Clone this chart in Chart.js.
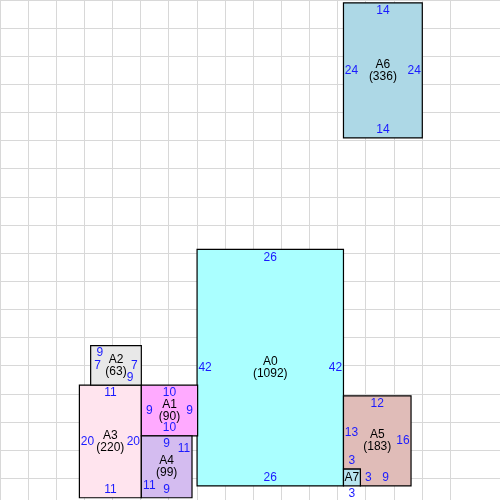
<!DOCTYPE html>
<html><head><meta charset="utf-8">
<script src="https://cdn.jsdelivr.net/npm/chart.js@4"></script>
<style>html,body{margin:0;padding:0;background:#fff}</style>
</head><body>
<canvas id="c" width="500" height="500"></canvas>
<script>
const roomNames = ["A0","A6","A3","A2","A1","A4","A5","A7"];
const roomAreas = [1092,336,220,63,90,99,183,null];
const roomColors = ["#aaffff","#add8e6","#ffe4ee","#e8e8e8","#ffaaff","#d4bcf0","#e0bcb8","#b8e4f0"];
const roomShapes = [
  [[35,44.3],[61,44.3],[61,86.3],[35,86.3]],
  [[61,0.5],[75,0.5],[75,24.5],[61,24.5]],
  [[14.1,68.4],[25.1,68.4],[25.1,88.4],[14.1,88.4]],
  [[16.1,61.4],[25.1,61.4],[25.1,68.4],[16.1,68.4]],
  [[25.1,68.4],[35.1,68.4],[35.1,77.4],[25.1,77.4]],
  [[25.1,77.4],[34.1,77.4],[34.1,88.4],[25.1,88.4]],
  [[61,70.3],[73,70.3],[73,86.3],[64,86.3],[64,83.3],[61,83.3]],
  [[61,83.3],[64,83.3],[64,86.3],[61,86.3]]
];
const edgeLabels = [
  [26,42,26,42],[14,24,14,24],[11,20,11,20],[9,7,9,7],[10,9,10,9],[9,11,9,11],
  [12,16,9,3,3,13],[null,null,3,null]
];
const edgeLabelFrac = [
  null,null,null,[0.18,0.5,0.22,0.5],null,[0.5,0.2,0.5,0.2],null,null
];
const labelInset = [8,8,8,7,8,8,8,-8];

const roomsPlugin = {
  id:'rooms',
  afterDatasetsDraw(chart){
    const ctx=chart.ctx, xs=chart.scales.x, ys=chart.scales.y;
    ctx.save();
    roomShapes.forEach((shape,i)=>{
      const pts=shape.map(p=>[xs.getPixelForValue(p[0]),ys.getPixelForValue(p[1])]);
      ctx.beginPath();
      pts.forEach((p,k)=>k?ctx.lineTo(p[0],p[1]):ctx.moveTo(p[0],p[1]));
      ctx.closePath();
      ctx.fillStyle=roomColors[i]; ctx.fill();
      ctx.strokeStyle='#000'; ctx.lineWidth=1.2; ctx.stroke();
    });
    ctx.font='12px "Liberation Sans", Arial, sans-serif';
    ctx.textAlign='center'; ctx.textBaseline='middle';
    roomShapes.forEach((shape,i)=>{
      const pts=shape.map(p=>[xs.getPixelForValue(p[0]),ys.getPixelForValue(p[1])]);
      ctx.fillStyle='#1a1aff';
      pts.forEach((p,k)=>{
        const lab=edgeLabels[i][k]; if(lab==null) return;
        const q=pts[(k+1)%pts.length];
        const f=edgeLabelFrac[i]?edgeLabelFrac[i][k]:0.5;
        const dx=q[0]-p[0], dy=q[1]-p[1], L=Math.hypot(dx,dy);
        const nx=-dy/L, ny=dx/L, off=labelInset[i];
        ctx.fillText(String(lab),p[0]+dx*f+nx*off,p[1]+dy*f+ny*off);
      });
      const xsP=pts.map(p=>p[0]), ysP=pts.map(p=>p[1]);
      const cx=(Math.min(...xsP)+Math.max(...xsP))/2, cy=(Math.min(...ysP)+Math.max(...ysP))/2;
      ctx.fillStyle='#000';
      if(roomAreas[i]==null){ ctx.fillText(roomNames[i],cx,cy); }
      else { ctx.fillText(roomNames[i],cx,cy-6); ctx.fillText('('+roomAreas[i]+')',cx,cy+6); }
    });
    ctx.restore();
  }
};

new Chart(document.getElementById('c'),{
  type:'scatter',
  data:{datasets:[{data:[],pointRadius:0}]},
  options:{
    responsive:false, animation:false,
    layout:{padding:0},
    plugins:{legend:{display:false},tooltip:{enabled:false}},
    scales:{
      x:{type:'linear',min:0,max:88.8,ticks:{display:false,stepSize:5},grid:{color:'#d8d8d8',drawTicks:false},border:{display:false}},
      y:{type:'linear',min:0,max:88.8,reverse:true,ticks:{display:false,stepSize:5},grid:{color:'#d8d8d8',drawTicks:false},border:{display:false}}
    }
  },
  plugins:[roomsPlugin]
});
</script>
</body></html>
